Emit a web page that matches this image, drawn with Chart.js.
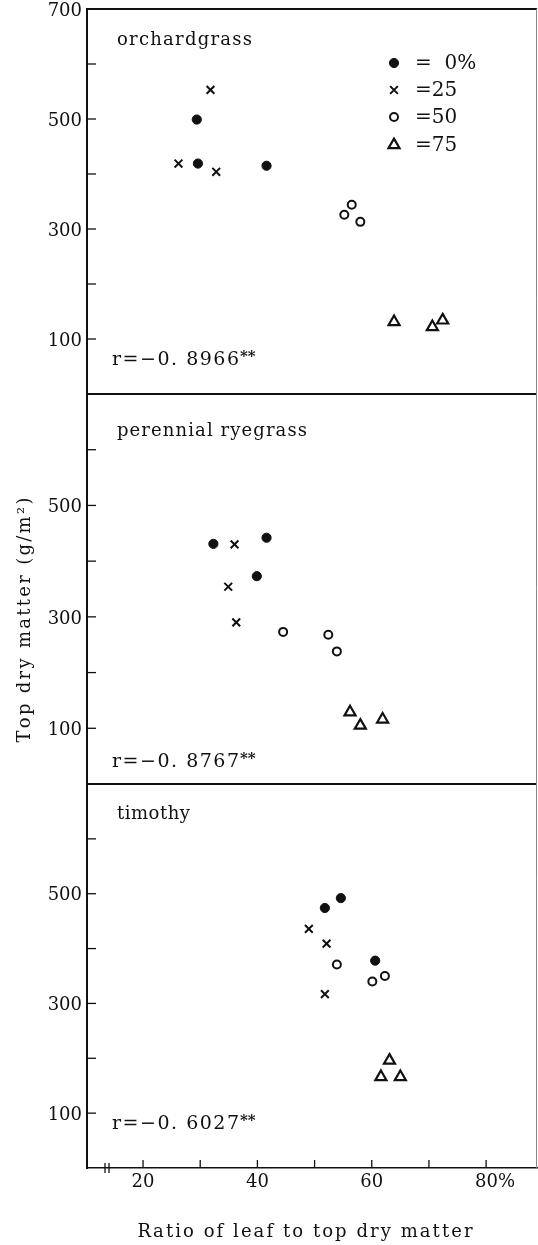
<!DOCTYPE html>
<html>
<head>
<meta charset="utf-8">
<script src="https://cdn.jsdelivr.net/npm/chart.js@4.4.1/dist/chart.umd.min.js"></script>
<style>
html,body{margin:0;padding:0;background:#fff;}
#wrap{position:relative;width:538px;height:1245px;}
</style>
</head>
<body>
<div id="wrap"><canvas id="c" width="538" height="1245"></canvas></div>
<script>
// ---------- data ----------
const panels = ['orchardgrass', 'perennial ryegrass', 'timothy'];
const rValues = ['−0. 8966', '−0. 8767', '−0. 6027'];
const treatments = ['0%', '25', '50', '75'];

// leaf ratio (%) and top dry matter (g/m2) per treatment [0%, 25, 50, 75]
const orchardX = [[29.4, 29.6, 41.6], [31.8, 26.2, 32.8], [55.2, 56.5, 58.0], [63.9, 70.6, 72.4]];
const orchardY = [[499, 419, 415], [553, 419, 404], [326, 344, 313], [131, 122, 134]];
const ryeX = [[32.3, 41.6, 39.9], [36.0, 34.9, 36.3], [44.5, 52.4, 53.9], [56.2, 58.0, 61.9]];
const ryeY = [[431, 442, 373], [430, 354, 290], [273, 268, 238], [129, 105, 116]];
const timX = [[51.8, 54.6, 60.6], [49.0, 52.1, 51.8], [53.9, 60.1, 62.3], [63.1, 61.6, 65.0]];
const timY = [[474, 492, 378], [436, 409, 317], [371, 340, 350], [196, 166, 166]];

const xTicksMajor = [20, 40, 60, 80];
const xTicksMinor = [30, 50, 70];
const xTickLabels = ['20', '40', '60', '80%'];
const yTicksMajor = [100, 300, 500, 700];
const yTicksMinor = [200, 400, 600];

const xTitle = 'Ratio of leaf to top dry matter';
const yTitle = 'Top dry matter (g/m²)';

// ---------- styles / layout ----------
const FONT = 'DejaVu Serif';
const INK = '#111';
const markStyles = [
  {pointStyle: 'circle', pointRadius: 4.6, pointBackgroundColor: INK, pointBorderColor: INK, pointBorderWidth: 1},
  {pointStyle: 'crossRot', pointRadius: 5.5, pointBackgroundColor: INK, pointBorderColor: INK, pointBorderWidth: 2},
  {pointStyle: 'circle', pointRadius: 4, pointBackgroundColor: '#fff', pointBorderColor: INK, pointBorderWidth: 2},
  {pointStyle: 'triangle', pointRadius: 6.4, pointBackgroundColor: '#fff', pointBorderColor: INK, pointBorderWidth: 2.2}
];
const L = {
  nameX: 117, nameBase: [45, 436, 819], nameW: [135, 190, 73],
  rX: 112, rBase: [365, 767, 1129], rW: 127,
  legX: 394, legTextX: 415, legY: [63, 90, 117, 145],
  xTitleCX: 305, xTitleBase: 1237, xTitleW: 335,
  yTitleCY: 620, yTitleBase: 30, yTitleW: 245
};

const axisIds = ['y1', 'y2', 'y3'];
const panelData = [[orchardX, orchardY], [ryeX, ryeY], [timX, timY]];
const datasets = [];
panelData.forEach(([xs, ys], p) => {
  treatments.forEach((t, k) => {
    datasets.push(Object.assign({
      label: panels[p] + ' ' + t,
      yAxisID: axisIds[p],
      showLine: false,
      data: xs[k].map((x, i) => ({x: x, y: ys[k][i]}))
    }, markStyles[k]));
  });
});

function yAxis(weight, stackWeight, ticks) {
  return {
    type: 'linear', position: 'left', stack: 'panels', stackWeight: stackWeight, weight: weight,
    min: 0, max: 700, bounds: 'data',
    afterBuildTicks: s => { s.ticks = ticks.map(v => ({value: v})); },
    afterFit: s => { s.width = 87; s.paddingTop = 0; s.paddingBottom = 0; },
    border: {display: true, color: INK, width: 2},
    grid: {display: true, drawOnChartArea: false, drawTicks: false},
    ticks: {
      padding: 5, labelOffset: 2, color: INK, font: {family: FONT, size: 18},
      callback: v => yTicksMajor.includes(v) ? String(v) : ''
    }
  };
}

function line(ctx, x1, y1, x2, y2, w) {
  ctx.lineWidth = w;
  ctx.beginPath(); ctx.moveTo(x1, y1); ctx.lineTo(x2, y2); ctx.stroke();
}
function spaced(ctx, text, x, y, width) {
  const chars = Array.from(text);
  const ws = chars.map(c => ctx.measureText(c).width);
  const tot = ws.reduce((a, b) => a + b, 0);
  const gap = chars.length > 1 ? (width - tot) / (chars.length - 1) : 0;
  let cx = x;
  chars.forEach((c, i) => { ctx.fillText(c, cx, y); cx += ws[i] + gap; });
}

const deco = {
  id: 'deco',
  afterDraw(chart) {
    const ctx = chart.ctx, ca = chart.chartArea;
    ctx.save();
    ctx.strokeStyle = INK; ctx.fillStyle = INK; ctx.lineCap = 'butt';
    // panel frames and inward y ticks
    axisIds.forEach(id => {
      const s = chart.scales[id];
      line(ctx, ca.left, s.top, ca.right, s.top, 1.8);
      yTicksMajor.concat(yTicksMinor).forEach(v => {
        if (v >= 700) return;
        const y = s.getPixelForValue(v);
        line(ctx, ca.left, y, ca.left + 9, y, 1.3);
      });
    });
    ctx.strokeStyle = '#888';
    line(ctx, ca.right - 0.5, ca.top, ca.right - 0.5, ca.bottom, 1);
    ctx.strokeStyle = INK;
    // inward x ticks
    const xs = chart.scales.x;
    xTicksMajor.concat(xTicksMinor).forEach(v => {
      const x = xs.getPixelForValue(v);
      line(ctx, x, ca.bottom, x, ca.bottom - 8, 1.3);
    });
    // axis break marks
    line(ctx, ca.left + 18, ca.bottom - 5, ca.left + 18, ca.bottom + 5, 1.3);
    line(ctx, ca.left + 22, ca.bottom - 5, ca.left + 22, ca.bottom + 5, 1.3);

    ctx.textBaseline = 'alphabetic'; ctx.textAlign = 'left';
    // panel names and r values
    panels.forEach((name, p) => {
      ctx.font = '18px "' + FONT + '"';
      spaced(ctx, name, L.nameX, L.nameBase[p], L.nameW[p]);
      ctx.font = '19px "' + FONT + '"';
      spaced(ctx, 'r=' + rValues[p], L.rX, L.rBase[p], L.rW);
      ctx.font = 'bold 15px "' + FONT + '"';
      ctx.fillText('**', L.rX + L.rW + 1, L.rBase[p] - 4);
    });
    // legend
    treatments.forEach((t, k) => {
      const st = markStyles[k];
      ctx.save();
      ctx.fillStyle = st.pointBackgroundColor; ctx.strokeStyle = st.pointBorderColor;
      ctx.lineWidth = st.pointBorderWidth;
      Chart.helpers.drawPoint(ctx, {pointStyle: st.pointStyle, radius: st.pointRadius, rotation: 0, borderWidth: st.pointBorderWidth}, L.legX, L.legY[k]);
      ctx.restore();
      ctx.font = '20px "' + FONT + '"';
      ctx.textBaseline = 'middle';
      ctx.fillText('=' + (k === 0 ? '  ' : '') + t, L.legTextX, L.legY[k] + 1);
    });
    // axis titles
    ctx.textBaseline = 'alphabetic';
    ctx.font = '18px "' + FONT + '"';
    spaced(ctx, xTitle, L.xTitleCX - L.xTitleW / 2, L.xTitleBase, L.xTitleW);
    ctx.save();
    ctx.translate(L.yTitleBase, L.yTitleCY);
    ctx.rotate(-Math.PI / 2);
    spaced(ctx, yTitle, -L.yTitleW / 2, 0, L.yTitleW);
    ctx.restore();
    ctx.restore();
  }
};

new Chart(document.getElementById('c'), {
  type: 'scatter',
  data: {datasets: datasets},
  options: {
    responsive: false, animation: false, events: [],
    layout: {autoPadding: false, padding: {top: 9, right: 1, left: 0, bottom: 0}},
    plugins: {legend: {display: false}, tooltip: {enabled: false}},
    scales: {
      x: {
        type: 'linear', position: 'bottom', min: 10.2, max: 88.9, bounds: 'data',
        afterBuildTicks: s => { s.ticks = xTicksMajor.map(v => ({value: v})); },
        afterFit: s => { s.height = 77; s.paddingLeft = 0; s.paddingRight = 0; },
        border: {display: true, color: INK, width: 1.6},
        grid: {display: true, drawOnChartArea: false, drawTicks: false},
        ticks: {
          padding: 4, color: INK, font: {family: FONT, size: 18}, maxRotation: 0, autoSkip: false,
          callback: v => { const i = xTicksMajor.indexOf(v); return i < 0 ? '' : (i === 3 ? '\u2002\u2002' + xTickLabels[i] : xTickLabels[i]); }
        }
      },
      y1: yAxis(3, 385, [100, 200, 300, 400, 500, 600, 700]),
      y2: yAxis(2, 390, [100, 200, 300, 400, 500, 600]),
      y3: yAxis(1, 384, [100, 200, 300, 400, 500, 600])
    }
  },
  plugins: [deco]
});
</script>
</body>
</html>
